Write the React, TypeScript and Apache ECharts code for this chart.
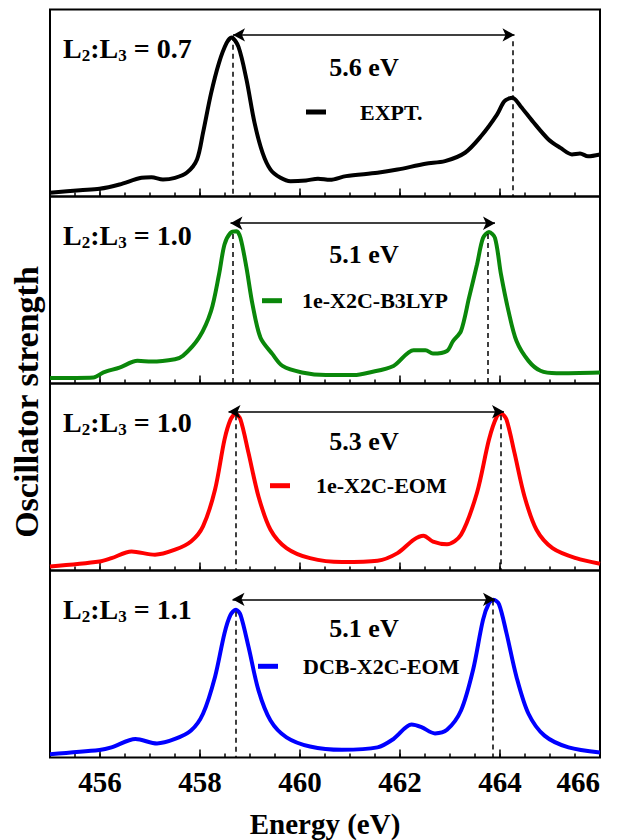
import React, { useEffect, useRef } from 'react';
import * as echarts from 'echarts';

// ---------- data ----------
const seriesNames = ['EXPT.', '1e-X2C-B3LYP', '1e-X2C-EOM', 'DCB-X2C-EOM'];
const seriesColors = ['#000000', '#0a870a', '#ff0000', '#0000ff'];

const exptEnergy = [455.0, 455.6, 455.99, 456.39, 456.83, 457.03, 457.26, 457.5, 457.74, 457.94, 458.06, 458.22, 458.38, 458.53, 458.63, 458.77, 458.93, 459.09, 459.25, 459.41, 459.61, 459.81, 460.12, 460.36, 460.6, 460.92, 461.55, 461.95, 462.51, 462.9, 463.3, 463.62, 463.94, 464.09, 464.25, 464.41, 464.65, 464.97, 465.21, 465.44, 465.6, 465.76, 466.0];
const exptValue = [0.02, 0.034, 0.041, 0.064, 0.1, 0.103, 0.091, 0.1, 0.128, 0.198, 0.34, 0.55, 0.715, 0.82, 0.85, 0.8, 0.625, 0.395, 0.235, 0.144, 0.1, 0.082, 0.086, 0.095, 0.089, 0.109, 0.127, 0.144, 0.175, 0.189, 0.234, 0.322, 0.438, 0.51, 0.528, 0.483, 0.403, 0.305, 0.26, 0.225, 0.23, 0.215, 0.225];

const b3lypEnergy = [455.0, 455.87, 456.07, 456.39, 456.75, 457.03, 457.5, 457.66, 457.98, 458.22, 458.38, 458.49, 458.61, 458.73, 458.81, 458.93, 459.05, 459.21, 459.45, 459.65, 460.04, 460.52, 461.08, 461.39, 461.87, 462.27, 462.51, 462.66, 462.94, 463.06, 463.22, 463.38, 463.54, 463.66, 463.78, 463.9, 464.02, 464.17, 464.33, 464.57, 464.81, 465.13, 466.0];
const b3lypValue = [0.029, 0.032, 0.059, 0.085, 0.121, 0.117, 0.13, 0.148, 0.245, 0.387, 0.583, 0.743, 0.805, 0.814, 0.778, 0.618, 0.423, 0.245, 0.157, 0.094, 0.059, 0.045, 0.045, 0.059, 0.094, 0.178, 0.178, 0.16, 0.174, 0.227, 0.281, 0.458, 0.636, 0.778, 0.81, 0.778, 0.583, 0.387, 0.227, 0.121, 0.068, 0.055, 0.059];

const eomEnergy = [455.0, 455.99, 456.23, 456.63, 457.1, 457.5, 457.82, 458.06, 458.3, 458.49, 458.61, 458.71, 458.81, 458.97, 459.17, 459.41, 459.73, 460.2, 460.84, 461.55, 461.95, 462.27, 462.47, 462.66, 462.94, 463.22, 463.54, 463.78, 463.94, 464.03, 464.13, 464.29, 464.49, 464.73, 465.05, 465.52, 466.0];
const eomValue = [0.021, 0.048, 0.066, 0.102, 0.084, 0.111, 0.155, 0.236, 0.432, 0.7, 0.807, 0.838, 0.807, 0.629, 0.396, 0.218, 0.12, 0.066, 0.045, 0.052, 0.093, 0.164, 0.186, 0.155, 0.141, 0.191, 0.416, 0.7, 0.825, 0.838, 0.807, 0.629, 0.396, 0.218, 0.12, 0.066, 0.036];

const dcbEnergy = [455.0, 455.99, 456.23, 456.71, 457.14, 457.5, 457.82, 458.06, 458.3, 458.49, 458.61, 458.72, 458.81, 458.97, 459.17, 459.41, 459.73, 460.2, 460.84, 461.55, 461.87, 462.23, 462.43, 462.7, 462.94, 463.22, 463.46, 463.66, 463.78, 463.87, 463.98, 464.13, 464.33, 464.57, 464.89, 465.37, 466.0];
const dcbValue = [0.018, 0.04, 0.054, 0.099, 0.075, 0.099, 0.144, 0.234, 0.431, 0.665, 0.763, 0.79, 0.763, 0.592, 0.359, 0.198, 0.108, 0.059, 0.041, 0.054, 0.099, 0.176, 0.162, 0.129, 0.148, 0.251, 0.467, 0.736, 0.826, 0.844, 0.82, 0.665, 0.431, 0.234, 0.117, 0.054, 0.027];

const energies = [exptEnergy, b3lypEnergy, eomEnergy, dcbEnergy];
const values = [exptValue, b3lypValue, eomValue, dcbValue];

const ratioLabels = ['0.7', '1.0', '1.0', '1.1'];
const splitLabels = ['5.6 eV', '5.1 eV', '5.3 eV', '5.1 eV'];
const l3Lines = [458.65, 458.65, 458.71, 458.71];
const l2Lines = [464.25, 463.76, 464.02, 463.86];
const l3LineTop = [0.86, 0.8, 0.83, 0.78];
const l2LineTop = [0.83, 0.8, 0.83, 0.84];
const arrowStart = [458.66, 458.61, 458.57, 458.65];
const arrowEnd = [464.29, 463.9, 464.08, 463.9];
const arrowLevel = [0.864, 0.857, 0.849, 0.846];

const tickLabels = [456, 458, 460, 462, 464, 466];
const majorTicks = [456, 458, 460, 462, 464];

// ---------- layout / style ----------
const FONT = 'Liberation Serif';
const GRID_LEFT = 50;
const GRID_RIGHT = 23;
const GRID_TOP0 = 9.5;
const GRID_H = 187;
const legendLeft = [306, 262, 270, 258];
const legendCenterY = [113, 301.7, 486.7, 667.3];
const legendPad = [29, 15, 21, 20];

export default function App() {
  const ref = useRef<HTMLDivElement>(null);

  useEffect(() => {
    if (!ref.current) return;
    const chart = echarts.init(ref.current, undefined, { renderer: 'svg' });

    const grids: any[] = [];
    const xAxes: any[] = [];
    const yAxes: any[] = [];
    const series: any[] = [];
    const legends: any[] = [];
    const graphics: any[] = [];

    for (let i = 0; i < 4; i++) {
      const top = GRID_TOP0 + GRID_H * i;
      grids.push({
        left: GRID_LEFT,
        right: GRID_RIGHT,
        top,
        height: GRID_H,
        show: true,
        borderColor: '#000',
        borderWidth: 2,
        backgroundColor: 'transparent',
        containLabel: false,
        outerBoundsMode: 'none',
      });
      xAxes.push({
        gridIndex: i,
        type: 'value',
        position: 'bottom',
        min: 455,
        max: 466,
        interval: 0.5,
        axisLine: { show: false, onZero: false },
        splitLine: { show: false },
        axisTick: { show: true, inside: true, length: 4, lineStyle: { color: '#000', width: 1.5 } },
        axisLabel: { show: false },
      });
      xAxes.push({
        gridIndex: i,
        type: 'value',
        position: 'bottom',
        min: 455,
        max: 466,
        axisLine: { show: false, onZero: false },
        splitLine: { show: false },
        axisTick: {
          show: true,
          inside: true,
          length: 8,
          customValues: majorTicks,
          lineStyle: { color: '#000', width: 1.5 },
        },
        axisLabel: {
          show: i === 3,
          customValues: tickLabels,
          fontFamily: FONT,
          fontWeight: 'bold',
          fontSize: 29,
          color: '#000',
          margin: 10,
          alignMaxLabel: 'right',
        },
        name: i === 3 ? 'Energy (eV)' : '',
        nameLocation: 'middle',
        nameGap: 52,
        nameTextStyle: { fontFamily: FONT, fontWeight: 'bold', fontSize: 29, color: '#000' },
      });
      yAxes.push({ gridIndex: i, type: 'value', min: 0, max: 1, show: false });

      const data = energies[i].map((e, k) => [e, values[i][k]]);
      const solid = { type: 'solid', width: 1.5, color: '#000' };
      const dashed = { type: [5, 4], width: 1.5, color: '#000' };
      series.push({
        type: 'line',
        name: seriesNames[i],
        xAxisIndex: 2 * i,
        yAxisIndex: i,
        data,
        showSymbol: false,
        smooth: 0.3,
        lineStyle: { width: 4, color: seriesColors[i] },
        itemStyle: { color: seriesColors[i] },
        markLine: {
          silent: true,
          animation: false,
          symbol: ['none', 'none'],
          label: { show: false },
          emphasis: { disabled: true },
          data: [
            [
              { coord: [arrowStart[i], arrowLevel[i]], symbol: 'arrow', symbolSize: [10, 12], lineStyle: solid },
              { coord: [arrowEnd[i], arrowLevel[i]], symbol: 'arrow', symbolSize: [10, 12] },
            ],
            [
              { coord: [l3Lines[i], l3LineTop[i]], lineStyle: dashed },
              { coord: [l3Lines[i], 0] },
            ],
            [
              { coord: [l2Lines[i], l2LineTop[i]], lineStyle: dashed },
              { coord: [l2Lines[i], 0] },
            ],
          ],
        },
      });

      legends.push({
        data: [seriesNames[i]],
        left: legendLeft[i],
        top: legendCenterY[i] - 12,
        icon: 'rect',
        itemWidth: 20,
        itemHeight: 5,
        selectedMode: false,
        padding: 0,
        textStyle: {
          fontFamily: FONT,
          fontWeight: 'bold',
          fontSize: 22,
          color: '#000',
          padding: [0, 0, 0, legendPad[i]],
        },
      });

      graphics.push({
        type: 'text',
        left: 63,
        top: top + 40.5 - 16,
        style: {
          text: `{m|L}{s|2}{m|:L}{s|3}{m| = ${ratioLabels[i]}}`,
          rich: {
            m: { fontFamily: FONT, fontWeight: 'bold', fontSize: 28, color: '#000' },
            s: { fontFamily: FONT, fontWeight: 'bold', fontSize: 17, color: '#000', padding: [14, 0, 0, 0] },
          },
        },
      });
      graphics.push({
        type: 'text',
        x: 364,
        y: top + 58,
        style: {
          text: splitLabels[i],
          fontFamily: FONT,
          fontWeight: 'bold',
          fontSize: 26,
          fill: '#000',
          align: 'center',
          verticalAlign: 'middle',
        },
      });
    }

    graphics.push({
      type: 'text',
      x: 26,
      y: 402,
      rotation: Math.PI / 2,
      style: {
        text: 'Oscillator strength',
        fontFamily: FONT,
        fontWeight: 'bold',
        fontSize: 34,
        fill: '#000',
        align: 'center',
        verticalAlign: 'middle',
      },
    });

    chart.setOption({
      animation: false,
      backgroundColor: '#fff',
      grid: grids,
      xAxis: xAxes,
      yAxis: yAxes,
      series,
      legend: legends,
      graphic: graphics,
    });

    return () => chart.dispose();
  }, []);

  return (
    <div
      ref={ref}
      style={{ position: 'fixed', left: 0, top: 0, width: 623, height: 840 }}
    />
  );
}
